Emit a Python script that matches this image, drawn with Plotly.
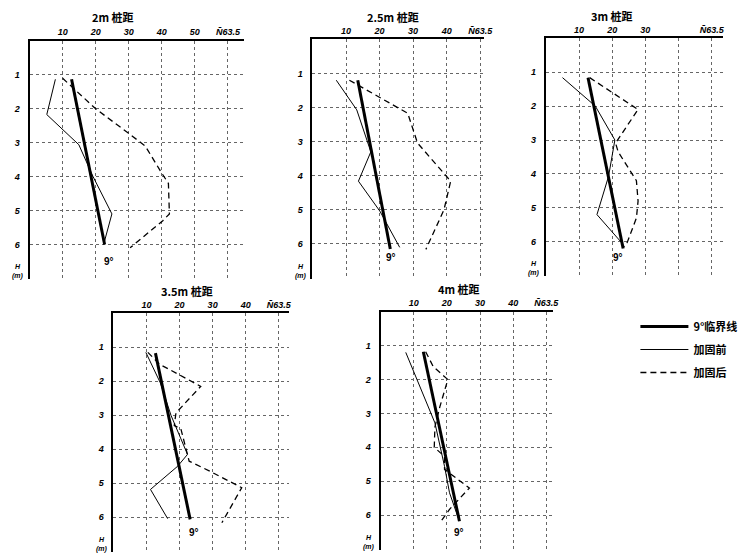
import plotly.graph_objects as go

# ---------------- data ----------------
panel_titles = ["2m 桩距", "2.5m 桩距", "3m 桩距", "3.5m 桩距", "4m 桩距"]
depth_ticks = [1, 2, 3, 4, 5, 6]

# 9° critical line (N, H)
crit_n = [[12.7, 22.7], [13.5, 23.2], [12.7, 23.3], [12.7, 23.2], [12.9, 23.8]]
crit_h = [[1.13, 6.0], [1.2, 6.15], [1.16, 6.2], [1.17, 6.06], [1.18, 6.18]]

# before reinforcement (加固前)
before_n = [
    [7.8, 5.2, 14.9, 19.2, 24.9, 22.4],
    [7.1, 13.2, 17.4, 13.7, 20.1, 26.0],
    [5.0, 14.9, 20.8, 18.9, 15.4, 23.3],
    [9.8, 14.2, 17.4, 22.4, 19.4, 11.2, 16.4],
    [7.6, 16.4, 19.3, 20.8, 23.5],
]
before_h = [
    [1.13, 2.17, 3.06, 4.0, 5.1, 6.0],
    [1.2, 2.07, 3.3, 4.16, 5.04, 6.1],
    [1.16, 2.0, 3.0, 4.07, 5.2, 6.08],
    [1.15, 2.05, 3.0, 4.15, 4.5, 5.18, 6.04],
    [1.2, 3.28, 4.56, 5.34, 6.1],
]

# after reinforcement (加固后)
after_n = [
    [10.0, 20.0, 31.0, 35.0, 40.0, 42.0, 42.3, 40.3, 30.4],
    [11.0, 19.6, 28.4, 31.3, 41.2, 39.2, 33.8],
    [13.2, 27.8, 21.0, 21.8, 27.3, 27.8, 27.3, 24.3, 23.5],
    [10.4, 14.0, 26.4, 18.9, 18.4, 20.4, 22.9, 29.3, 38.8, 32.8],
    [13.6, 15.9, 20.3, 17.9, 16.4, 16.2, 19.3, 19.3, 26.8, 20.8, 17.9],
]
after_h = [
    [1.1, 2.0, 2.8, 3.1, 3.9, 4.2, 5.1, 5.3, 6.1],
    [1.2, 1.68, 2.17, 3.04, 4.16, 5.0, 6.16],
    [1.16, 2.1, 3.09, 3.35, 4.2, 4.8, 5.3, 6.08, 6.15],
    [1.15, 1.5, 2.15, 2.93, 3.3, 3.4, 4.35, 4.65, 5.13, 6.16],
    [1.18, 1.62, 2.0, 2.8, 3.4, 4.0, 4.27, 4.65, 5.2, 5.83, 6.23],
]

x_tickvals = [[10, 20, 30, 40, 50, 60], [10, 20, 30, 40, 50], [10, 20, 30, 40, 50],
              [10, 20, 30, 40, 50], [10, 20, 30, 40, 50]]
x_ticktext = [["10", "20", "30", "40", "50", "N\u030463.5"],
              ["10", "20", "30", "40", "N\u030463.5"],
              ["10", "20", "30", "", "N\u030463.5"],
              ["10", "20", "30", "40", "N\u030463.5"],
              ["10", "20", "30", "40", "N\u030463.5"]]

legend_names = ["9°临界线", "加固前", "加固后"]

# ---------------- layout geometry (pixels) ----------------
W, H = 749, 558
# left px, px per unit, xmax, top px, bottom px
geom = [
    (30.0, 3.35, 65.0, 41.0, 279.0),
    (316.7, 3.40, 51.0, 39.3, 278.7),
    (553.3, 3.36, 53.5, 38.3, 276.3),
    (115.0, 3.35, 53.0, 313.3, 552.0),
    (385.7, 3.36, 52.0, 311.7, 549.7),
]
nine_pos = [(23.9, 6.5), (23.5, 6.4), (21.8, 6.47), (24.4, 6.45), (23.6, 6.5)]
title_px = [(115, 17), (398, 17), (620, 16), (190, 291), (465, 289)]

fig = go.Figure()
tickfont = dict(family="Liberation Sans", size=9, color="black", weight="bold", style="italic")
cjk = "Noto Sans CJK SC"
gridc = "#666"

annotations = []
for i in range(5):
    left, ppu, xmax, top, bottom = geom[i]
    right = left + ppu * xmax
    xa = "xaxis" if i == 0 else f"xaxis{i+1}"
    ya = "yaxis" if i == 0 else f"yaxis{i+1}"
    xr = "x" if i == 0 else f"x{i+1}"
    yr = "y" if i == 0 else f"y{i+1}"
    show = (i == 0)
    fig.add_trace(go.Scatter(x=crit_n[i], y=crit_h[i], mode="lines", xaxis=xr, yaxis=yr,
                             line=dict(color="black", width=3), name=legend_names[0],
                             showlegend=show, legendgroup="crit", legendrank=1))
    fig.add_trace(go.Scatter(x=before_n[i], y=before_h[i], mode="lines", xaxis=xr, yaxis=yr,
                             line=dict(color="black", width=1), name=legend_names[1],
                             showlegend=show, legendgroup="before", legendrank=2))
    fig.add_trace(go.Scatter(x=after_n[i], y=after_h[i], mode="lines", xaxis=xr, yaxis=yr,
                             line=dict(color="black", width=1.3, dash="6px,4px"), name=legend_names[2],
                             showlegend=show, legendgroup="after", legendrank=3))
    fig.layout[xa] = dict(
        domain=[left / W, right / W], range=[0, xmax], side="top", anchor=yr,
        tickvals=x_tickvals[i], ticktext=x_ticktext[i], tickfont=tickfont,
        showgrid=True, gridcolor=gridc, griddash="dot", gridwidth=1,
        showline=True, linecolor="black", linewidth=2, ticks="", zeroline=False,
        fixedrange=True,
    )
    fig.layout[ya] = dict(
        domain=[1 - bottom / H, 1 - top / H], range=[7.02, 0], anchor=xr,
        tickvals=depth_ticks + [7], ticktext=[str(t) for t in depth_ticks] + [""],
        tickfont=tickfont, showgrid=True, gridcolor=gridc, griddash="dot", gridwidth=1,
        showline=True, linecolor="black", linewidth=2, ticks="", zeroline=False,
        ticklabelstandoff=6, fixedrange=True,
    )
    annotations.append(dict(text="9°", x=nine_pos[i][0], y=nine_pos[i][1], xref=xr, yref=yr,
                            showarrow=False, font=dict(family="Liberation Sans", size=10,
                                                       color="black", weight="bold")))
    annotations.append(dict(text="H<br>(m)", x=(left - 4) / W, y=6.8, xref="paper", yref=yr,
                            showarrow=False, xanchor="right", yanchor="middle", align="center",
                            font=dict(family="Liberation Sans", size=7, color="black",
                                      weight="bold", style="italic")))
    tx, ty = title_px[i]
    annotations.append(dict(text=panel_titles[i], x=tx / W, y=1 - ty / H, xref="paper", yref="paper",
                            showarrow=False, xanchor="center", yanchor="middle",
                            font=dict(family=cjk, size=11, color="black", weight="bold")))

fig.update_layout(
    width=W, height=H, margin=dict(l=0, r=0, t=0, b=0),
    paper_bgcolor="white", plot_bgcolor="white",
    annotations=annotations,
    legend=dict(x=644 / W, y=1 - 312 / H, xanchor="left", yanchor="top",
                font=dict(family=cjk, size=11, color="black", weight="bold"),
                bgcolor="rgba(0,0,0,0)", itemwidth=48, tracegroupgap=4,
                traceorder="grouped"),
)

fig.write_html("out.html", config={"displayModeBar": False},
               post_script="document.body.style.margin='0';")
